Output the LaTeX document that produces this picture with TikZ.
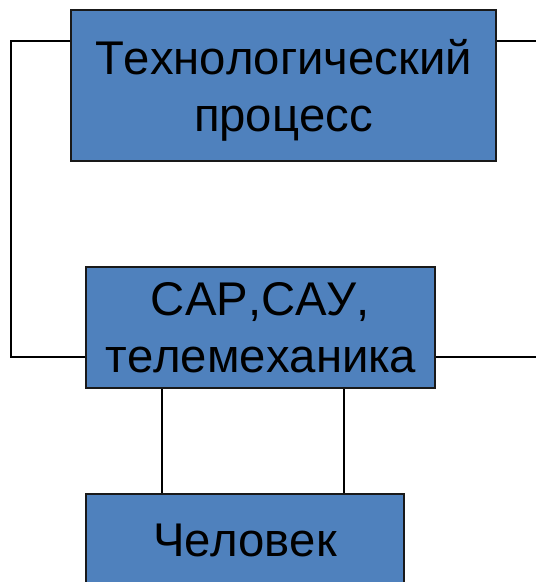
\documentclass[tikz,border=0pt]{standalone}
\usepackage{fontspec}
\setmainfont[Kerning=Off]{Liberation Sans}
\begin{document}
\begin{tikzpicture}[x=1pt,y=1pt,
  block/.style={draw=black!90, line width=2pt, fill=boxblue, inner sep=0pt,
    align=center, font=\fontsize{47.3}{57.5}\selectfont},
  wire/.style={draw=black, line width=2pt}]
\definecolor{boxblue}{HTML}{4F81BD}
\useasboundingbox (0,0) rectangle (536,-582);
\clip (0,0) rectangle (536,-582);

% blocks
\node[block, minimum width=425pt, minimum height=151pt, text depth=0pt]
  (proc) at (283.5,-85.5) {Технологический\\процесс};
\node[block, minimum width=349pt, minimum height=121pt, text depth=0pt]
  (ctrl) at (260.5,-327.5) {САР,САУ,\\телемеханика};
\node[block, minimum width=318pt, minimum height=92pt]
  (man) at (245,-540) {Человек};

% free ends of the connectors
\coordinate (lt) at (11,-41);
\coordinate (lb) at (11,-357);
\coordinate (rt) at (540,-41);
\coordinate (rb) at (540,-357);
\coordinate (va) at (162,0);
\coordinate (vb) at (344,0);

% connectors
\draw[wire] (proc.west |- lt) -- (lt) -- (lb) -- (ctrl.west |- lb);
\draw[wire] (proc.east |- rt) -- (rt);
\draw[wire] (ctrl.east |- rb) -- (rb);
\draw[wire] (ctrl.south -| va) -- (man.north -| va);
\draw[wire] (ctrl.south -| vb) -- (man.north -| vb);
\end{tikzpicture}
\end{document}
